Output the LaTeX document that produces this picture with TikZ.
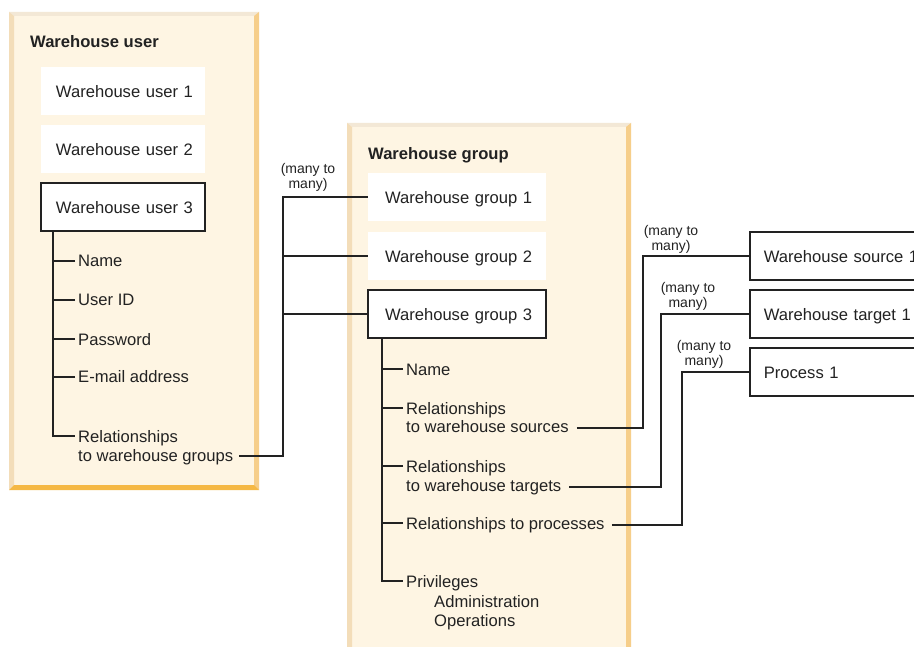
\documentclass[tikz,border=0pt]{standalone}
\usepackage{fontspec}
\setmainfont{Liberation Sans}
\definecolor{ink}{HTML}{222222}
\definecolor{panelfill}{HTML}{FEF5E3}
\definecolor{beveltop}{HTML}{F3E8D6}
\definecolor{bevelleft}{HTML}{F3DDB9}
\definecolor{bevelright}{HTML}{F6CE8A}
\definecolor{bevelbottom}{HTML}{F5B844}
% cream panel with a bevelled frame: left, top, right, bottom
\newcommand\bevelpanel[4]{%
  \fill[panelfill] (#1,#2) rectangle (#3,#4);
  \fill[beveltop] (#1,#2) -- (#3,#2) -- ({#3-5},{#2+4}) -- ({#1+5},{#2+4}) -- cycle;
  \fill[bevelleft] (#1,#2) -- ({#1+5},{#2+4}) -- ({#1+5},{#4-5}) -- (#1,#4) -- cycle;
  \fill[bevelright] (#3,#2) -- (#3,#4) -- ({#3-5},{#4-5}) -- ({#3-5},{#2+4}) -- cycle;
  \fill[bevelbottom] (#1,#4) -- (#3,#4) -- ({#3-5},{#4-5}) -- ({#1+5},{#4-5}) -- cycle;
}
\begin{document}
\begin{tikzpicture}[x=1pt,y=-1pt,
  every node/.style={text=ink, font=\fontsize{16.6}{19}\selectfont},
  title/.style={anchor=base west, inner sep=0pt, font=\fontsize{16.6}{19}\selectfont\bfseries},
  box/.style={fill=white, minimum height=48pt, inner ysep=0pt, align=left,
              text height=14pt, text depth=0pt},
  userbox/.style={box, inner xsep=15pt, text width=134pt},
  groupbox/.style={box, inner xsep=17pt, text width=144pt},
  objbox/.style={box, anchor=west, inner xsep=14pt, text width=220pt},
  framed/.style={draw=ink, line width=1.7pt},
  item/.style={anchor=base west, inner xsep=3pt, inner ysep=0pt},
  conn/.style={draw=ink, line width=1.5pt},
  many/.style={font=\fontsize{14}{15}\selectfont, align=center, inner sep=0pt, anchor=south}]

\useasboundingbox (0,0) rectangle (914,647);
\clip (0,0) rectangle (914,647);
\fill[white] (0,0) rectangle (914,647);

% panels
\bevelpanel{9}{12}{259}{490}
\bevelpanel{347}{123}{631}{670}

% warehouse user panel
\node[title] (tu) at (30,48) {Warehouse user};
\node[userbox] (u1) at (123,91) {\mbox{Warehouse user 1}};
\node[userbox] (u2) at (123,149) {\mbox{Warehouse user 2}};
\node[userbox, framed] (u3) at (123,207) {\mbox{Warehouse user 3}};

\node[item] (uname) at (75,267) {Name};
\node[item] (uid) at (75,306) {User ID};
\node[item] (upw) at (75,345) {Password};
\node[item] (umail) at (75,383) {E-mail address};
\node[item] (urel) at (75,442) {Relationships};
\node[item] (urelb) at (75,461) {to warehouse groups};

\coordinate (ut) at (53,0);
\draw[conn] (u3.south -| ut) |- ([yshift=6pt]urel.base west);
\foreach \n in {uname,uid,upw,umail}
  \draw[conn] ([yshift=6pt]\n.base west) -- ++(-22pt,0);

% warehouse group panel
\node[title] (tg) at (368,160) {Warehouse group};
\node[groupbox] (g1) at (457,197) {\mbox{Warehouse group 1}};
\node[groupbox] (g2) at (457,256) {\mbox{Warehouse group 2}};
\node[groupbox, framed] (g3) at (457,314) {\mbox{Warehouse group 3}};

\node[item] (gname) at (403,375) {Name};
\node[item] (gsrc) at (403,414) {Relationships};
\node[item] (gsrcb) at (403,432) {to warehouse sources};
\node[item] (gtgt) at (403,472) {Relationships};
\node[item] (gtgtb) at (403,491) {to warehouse targets};
\node[item] (gproc) at (403,529) {Relationships to processes};
\node[item] (gpriv) at (403,587) {Privileges};
\node[item] (gadm) at (431,607) {Administration};
\node[item] (gops) at (431,626) {Operations};

\coordinate (gt) at (382,0);
\draw[conn] (g3.south -| gt) |- ([yshift=6pt]gpriv.base west);
\foreach \n in {gname,gsrc,gtgt,gproc}
  \draw[conn] ([yshift=6pt]\n.base west) -- ++(-21pt,0);

% related objects
\node[objbox, framed] (src) at (749,256) {Warehouse source 1};
\node[objbox, framed] (tgt) at (749,314) {Warehouse target 1};
\node[objbox, framed] (proc) at (749,372) {Process 1};

% user to group links
\coordinate (jl) at (283,0);
\draw[conn] ([xshift=3pt,yshift=5pt]urelb.base east) -| (g1.west -| jl) -- (g1.west);
\draw[conn] (g2.west -| jl) -- (g2.west);
\draw[conn] (g3.west -| jl) -- (g3.west);
\node[many] (ml) at (308,192) {(many to\\many)};

% group to object links
\coordinate (js) at (643,0);
\coordinate (jt) at (661,0);
\coordinate (jp) at (682,0);
\draw[conn] ([xshift=5pt,yshift=4pt]gsrcb.base east) -| (src.west -| js) -- (src.west);
\draw[conn] ([xshift=5pt,yshift=4pt]gtgtb.base east) -| (tgt.west -| jt) -- (tgt.west);
\draw[conn] ([xshift=4pt,yshift=4pt]gproc.base east) -| (proc.west -| jp) -- (proc.west);
\node[many] (ms) at (671,254) {(many to\\many)};
\node[many] (mt) at (688,311) {(many to\\many)};
\node[many] (mp) at (704,369) {(many to\\many)};
\end{tikzpicture}
\end{document}
